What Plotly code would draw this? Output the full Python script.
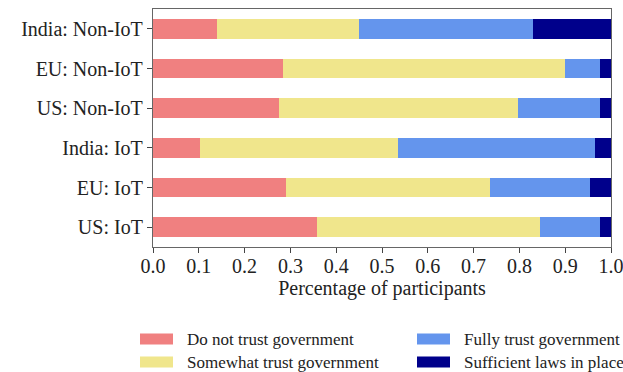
import plotly.graph_objects as go

# Survey groups (top to bottom as shown)
groups = ["India: Non-IoT", "EU: Non-IoT", "US: Non-IoT", "India: IoT", "EU: IoT", "US: IoT"]

# Share of participants per response
do_not_trust = [0.139, 0.283, 0.275, 0.102, 0.290, 0.357]
somewhat_trust = [0.310, 0.616, 0.521, 0.432, 0.445, 0.487]
fully_trust = [0.380, 0.076, 0.181, 0.432, 0.220, 0.133]
sufficient_laws = [0.171, 0.025, 0.023, 0.034, 0.045, 0.023]

series = [
    ("Do not trust government", do_not_trust, "#F08080"),
    ("Somewhat trust government", somewhat_trust, "#F0E68C"),
    ("Fully trust government", fully_trust, "#6495ED"),
    ("Sufficient laws in place", sufficient_laws, "#00008B"),
]

x_ticks = [0.0, 0.1, 0.2, 0.3, 0.4, 0.5, 0.6, 0.7, 0.8, 0.9, 1.0]

FONT = "Liberation Serif"
W, H = 623, 372
L, R, T, B = 153, 12, 9, 125

fig = go.Figure()
for name, vals, color in series:
    fig.add_trace(go.Bar(
        y=groups, x=vals, name=name, orientation="h",
        marker=dict(color=color, line=dict(width=0)),
        width=0.5, showlegend=False,
    ))

# Legend drawn as wide patches in two columns below the axes
pw = W - L - R
ph = H - T - B
def px_x(px):
    return (px - L) / pw
def px_y(py):
    return (H - B - py) / ph

legend_pos = [(140, 339), (140, 362), (417, 339), (417, 362)]
shapes = []
annotations = []
for (name, _, color), (lx, ly) in zip(series, legend_pos):
    shapes.append(dict(type="rect", xref="paper", yref="paper",
                       x0=px_x(lx), x1=px_x(lx + 33),
                       y0=px_y(ly + 5.5), y1=px_y(ly - 5.5),
                       fillcolor=color, line=dict(width=0)))
    annotations.append(dict(text=name, xref="paper", yref="paper",
                            x=px_x(lx + 45), y=px_y(ly),
                            xanchor="left", yanchor="middle", showarrow=False,
                            font=dict(family=FONT, size=17, color="#222")))

fig.update_layout(
    width=W, height=H,
    margin=dict(l=L, r=R, t=T, b=B, autoexpand=False),
    barmode="stack",
    bargap=0.5,
    plot_bgcolor="white", paper_bgcolor="white",
    font=dict(family=FONT, size=20, color="#222"),
    shapes=shapes, annotations=annotations,
    xaxis=dict(
        range=[0, 1], tickvals=x_ticks, ticktext=[f"{v:.1f}" for v in x_ticks],
        showgrid=False, zeroline=False, automargin=False,
        ticklabeloverflow="allow", ticklabelstandoff=-4,
        showline=True, mirror=True, linecolor="#666", linewidth=1.3,
        ticks="outside", ticklen=5, tickcolor="#444", tickwidth=1,
        title=dict(text="Percentage of participants", standoff=0,
                   font=dict(family=FONT, size=20)),
        tickfont=dict(family=FONT, size=20),
    ),
    yaxis=dict(
        categoryorder="array", categoryarray=groups[::-1],
        range=[-0.5, 5.5], automargin=False,
        showgrid=False, zeroline=False,
        showline=True, mirror=True, linecolor="#666", linewidth=1.3,
        ticks="outside", ticklen=5, tickcolor="#444", tickwidth=1,
        tickfont=dict(family=FONT, size=20),
    ),
)

fig.write_html("out.html")
